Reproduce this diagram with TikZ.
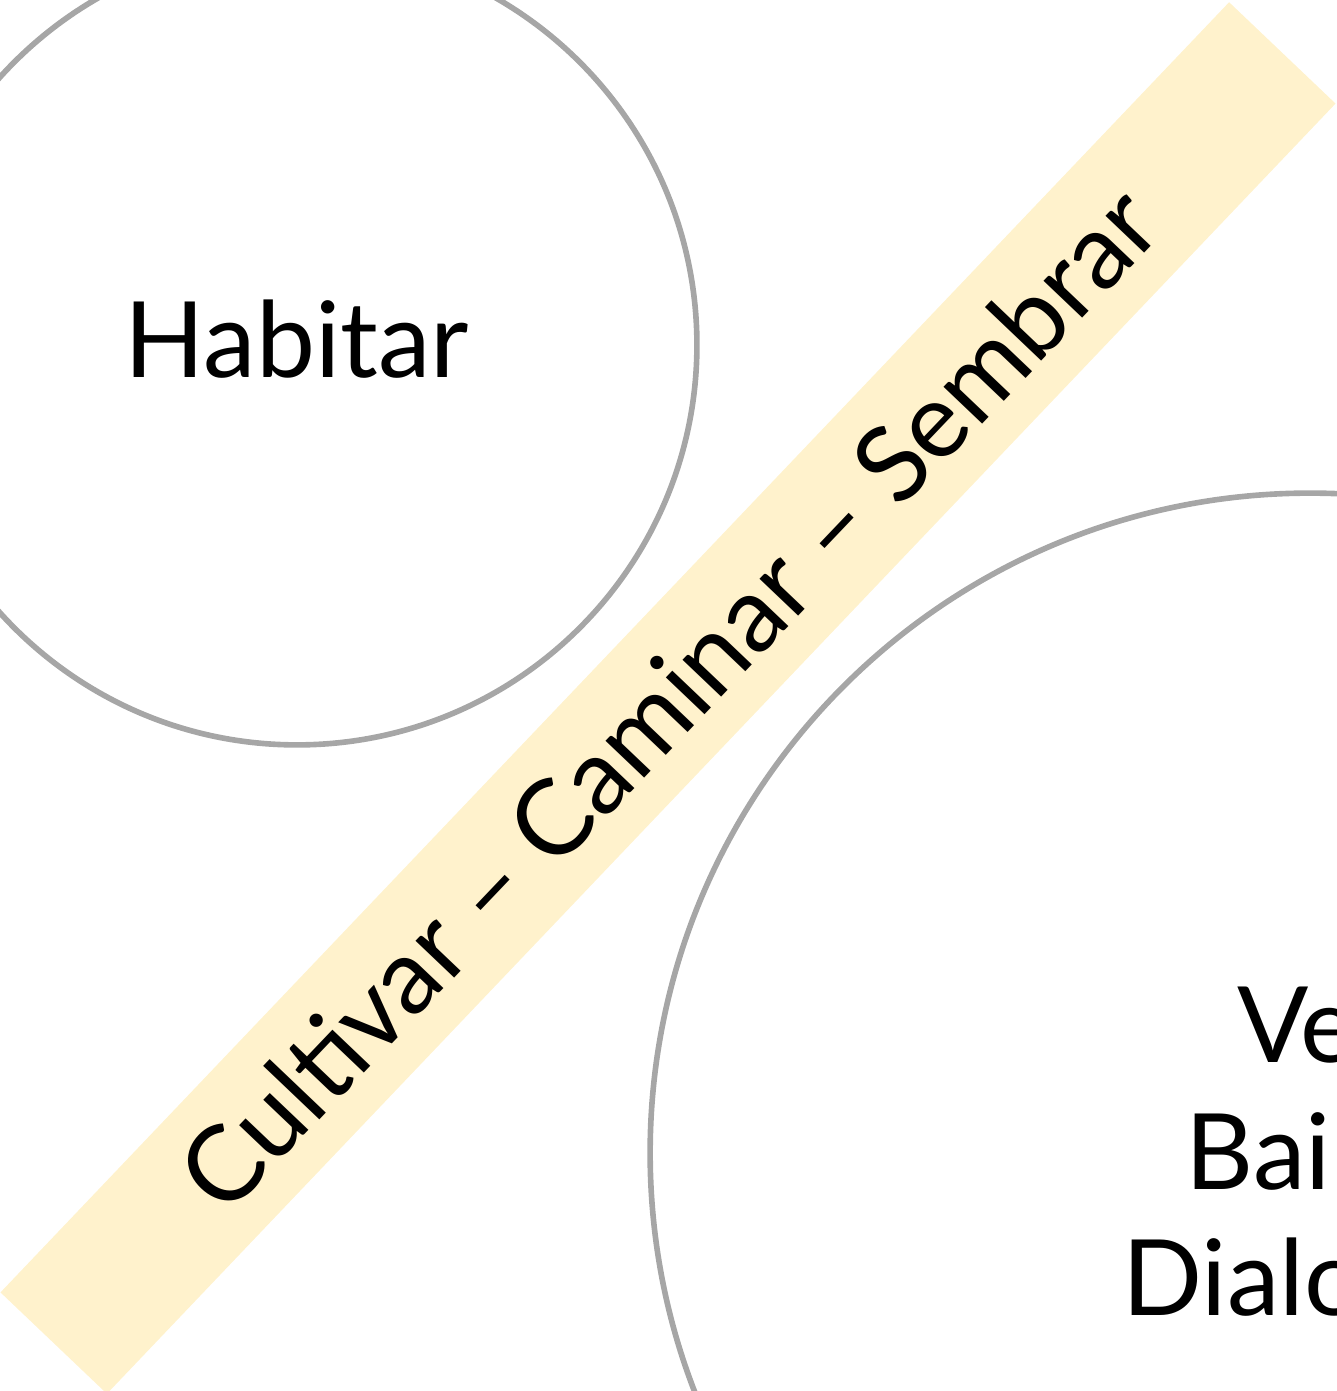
\documentclass[tikz,border=0pt]{standalone}
\usepackage{fontspec}
\setmainfont{Lato}
\usetikzlibrary{positioning}
\definecolor{bandfill}{HTML}{FFF2CC}
\definecolor{ringgray}{HTML}{A6A6A6}

\begin{document}
\begin{tikzpicture}[x=0.02cm, y=0.02cm, every node/.style={font=\fontsize{60}{72}\selectfont},
        ring/.style={circle, draw=ringgray, line width=3.2pt, inner sep=0pt},
        band/.style={fill=bandfill, rotate=46.4, inner sep=0pt, font=\fontsize{60}{72}\selectfont}]
                \useasboundingbox (0,0) rectangle (1336,1391);
                \node[ring, minimum size=16cm] (habring) at (297,1046) {};
                \node[ring, minimum size=26.4cm] (verring) at (1310,238) {};
                \node (habitar) at (297,1052) {Habitar};
                \node[align=center] (ver) at (1316,230) {Ver\\Bailar\\Dialogar};
                \node[band, minimum width=35.64cm, minimum height=2.94cm] (camino) at (668,693) {Cultivar – Caminar – Sembrar};
            \end{tikzpicture}
\end{document}
